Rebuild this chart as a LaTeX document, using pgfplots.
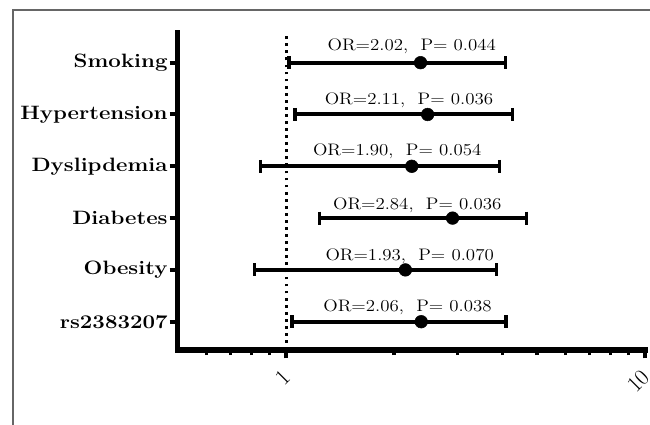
\documentclass[border=0pt]{standalone}
\usepackage{fontspec}
\usepackage{pgfplots}
\pgfplotsset{compat=1.18}
\begin{document}
\begin{tikzpicture}
\useasboundingbox (0,0) rectangle (487.5pt,318.75pt);
\draw[black!60, line width=0.8pt] (9.75pt,-2pt) -- (9.75pt,311.25pt) -- (490pt,311.25pt);
\begin{axis}[
  at={(133.5pt,56.25pt)}, anchor=south west,
  scale only axis, width=350.25pt, height=237.75pt,
  xmode=log, xmin=0.5, xmax=10, ymin=0.454, ymax=6.573,
  clip=false,
  axis lines=left,
  axis line style={-, line width=3.75pt, line cap=rect},
  xtick={1,10}, xticklabels={1,10},
  minor xtick={0.6,0.7,0.8,0.9,2,3,4,5,6,7,8,9},
  ytick={1,2,3,4,5,6},
  yticklabels={rs2383207\hspace{7pt},Obesity,Diabetes,Dyslipdemia,Hypertension,Smoking},
  tick align=outside,
  major tick length=6.2pt, minor tick length=3.8pt,
  major tick style={black, line width=3pt},
  minor tick style={black, line width=2.4pt},
  /pgf/number format/assume math mode=true,
  yticklabel style={font=\bfseries\fontsize{14.5}{17}\selectfont\addfontfeatures{FakeBold=1.5}, xscale=1.15, anchor=east, inner sep=1.2pt},
  xticklabel style={font=\fontsize{17}{19}\selectfont\addfontfeatures{FakeBold=1.2}, xshift=3pt, yshift=-9pt, rotate=45, anchor=east},
]
% reference line at OR = 1
\addplot[black, line width=2.2pt, dash pattern=on 2.1pt off 3.2pt] coordinates {(1,0.454) (1,6.573)};
% confidence intervals
\addplot[black, line width=3pt, mark=|, mark size=4.9pt, mark options={line width=2.5pt, solid}] coordinates {(1.02,6) (4.08,6)};
\addplot[black, line width=3pt, mark=|, mark size=4.9pt, mark options={line width=2.5pt, solid}] coordinates {(1.06,5) (4.28,5)};
\addplot[black, line width=3pt, mark=|, mark size=4.9pt, mark options={line width=2.5pt, solid}] coordinates {(0.85,4) (3.93,4)};
\addplot[black, line width=3pt, mark=|, mark size=4.9pt, mark options={line width=2.5pt, solid}] coordinates {(1.24,3) (4.67,3)};
\addplot[black, line width=3pt, mark=|, mark size=4.9pt, mark options={line width=2.5pt, solid}] coordinates {(0.817,2) (3.85,2)};
\addplot[black, line width=3pt, mark=|, mark size=4.9pt, mark options={line width=2.5pt, solid}] coordinates {(1.04,1) (4.10,1)};
% point estimates
\addplot[only marks, mark=*, mark size=4.75pt, black] coordinates {
  (2.37,6) (2.48,5) (2.24,4) (2.91,3) (2.15,2) (2.38,1)};
% annotations
\begin{scope}[every node/.style={font=\fontsize{12.5}{14}\selectfont\addfontfeatures{FakeBold=0.8}, xscale=1.135, anchor=base, inner sep=0pt}]
\node at (axis cs:2.24,6.24) {OR=2.02,\ \ P= 0.044};
\node at (axis cs:2.20,5.20) {OR=2.11,\ \ P= 0.036};
\node at (axis cs:2.04,4.20) {OR=1.90,\ \ P= 0.054};
\node at (axis cs:2.32,3.16) {OR=2.84,\ \ P= 0.036};
\node at (axis cs:2.21,2.18) {OR=1.93,\ \ P= 0.070};
\node at (axis cs:2.18,1.20) {OR=2.06,\ \ P= 0.038};
\end{scope}
\end{axis}
\end{tikzpicture}
\end{document}
